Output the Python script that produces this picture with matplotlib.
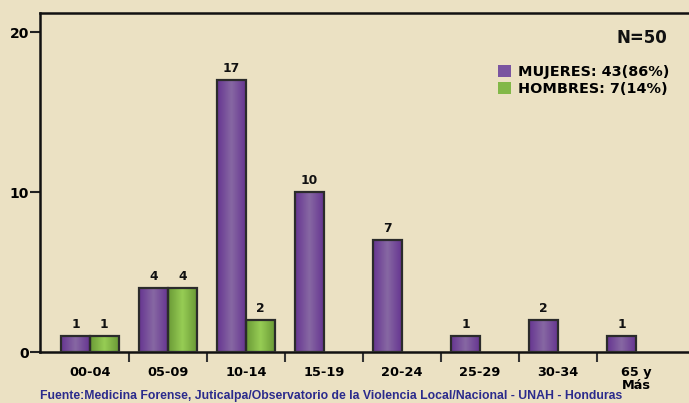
import numpy as np
import matplotlib
matplotlib.use("Agg")
import matplotlib.pyplot as plt
from matplotlib.colors import LinearSegmentedColormap
from matplotlib.patches import Rectangle

# Data
grupos = ["00-04", "05-09", "10-14", "15-19", "20-24", "25-29", "30-34", "65 y\nMás"]
mujeres = [1, 4, 17, 10, 7, 1, 2, 1]
hombres = [1, 4, 2, 0, 0, 0, 0, 0]
etiqueta_mujeres = "MUJERES: 43(86%)"
etiqueta_hombres = "HOMBRES: 7(14%)"
total_texto = "N=50"
fuente = "Fuente:Medicina Forense, Juticalpa/Observatorio de la Violencia Local/Nacional - UNAH - Honduras"

bg = "#ebe1c3"
purple_cmap = LinearSegmentedColormap.from_list("p", ["#663591", "#8768a3", "#663591"])
green_cmap = LinearSegmentedColormap.from_list("g", ["#6a9a36", "#97cd55", "#6a9a36"])
edge = "#2b2b2b"

fig = plt.figure(figsize=(6.89, 4.03), dpi=100, facecolor=bg)
ax = fig.add_axes([40 / 689, 51 / 403, 649 / 689, 339 / 403], facecolor=bg)

x = np.arange(len(grupos))
w = 0.368
xlim = (-0.641, 7.68)
ylim = (0, 21.19)


def gradient_bars(xs, vals, cmap):
    grad = np.linspace(0, 1, 64).reshape(1, -1)
    for xi, v in zip(xs, vals):
        if v <= 0:
            continue
        ax.imshow(grad, extent=[xi, xi + w, 0, v], aspect="auto", cmap=cmap,
                  zorder=2, interpolation="bicubic")
        ax.add_patch(Rectangle((xi, 0), w, v, facecolor="none", edgecolor=edge,
                               linewidth=1.6, zorder=3))
        ax.text(xi + w / 2, v + 0.3, str(v), ha="center", va="bottom",
                fontsize=8.8, fontweight="bold", color="#111111")


gradient_bars(x - w, mujeres, purple_cmap)
gradient_bars(x, hombres, green_cmap)

ax.set_xlim(*xlim)
ax.set_ylim(*ylim)

ax.set_yticks([0, 10, 20])
ax.set_yticklabels(["0", "10", "20"], fontsize=10, fontweight="bold")
ax.tick_params(axis="y", length=7, width=1.5, pad=1, color="#222222")

ax.set_xticks(x)
ax.set_xticklabels(grupos, fontsize=9.3, fontweight="bold", linespacing=1.0)
ax.set_xticks(x[:-1] + 0.5, minor=True)
ax.tick_params(axis="x", which="major", length=0, pad=10)
ax.tick_params(axis="x", which="minor", length=7.5, width=1.5, color="#333333")

for s in ["left", "bottom", "top"]:
    ax.spines[s].set_linewidth(1.8)
    ax.spines[s].set_color("#111111")
ax.spines["right"].set_visible(False)

fig.text(667 / 689, 1 - 38 / 403, total_texto, ha="right", va="center",
         fontsize=12, fontweight="bold", color="#111111")

handles = [Rectangle((0, 0), 1, 1, facecolor="#7a55a0"),
           Rectangle((0, 0), 1, 1, facecolor="#82b848")]
fig.legend(handles, [etiqueta_mujeres, etiqueta_hombres], loc="upper left",
           bbox_to_anchor=(491 / 689, 1 - 58 / 403), frameon=False, borderpad=0,
           handlelength=0.9, handleheight=0.9, handletextpad=0.45,
           labelspacing=0.2, prop={"weight": "bold", "size": 10.4})

fig.text(331 / 689, 1 - 402 / 403, fuente, ha="center", va="bottom",
         fontsize=8.8, fontweight="bold", color="#2b2b8c", family="Liberation Sans")

fig.savefig("out.png", dpi=100, facecolor=bg)
